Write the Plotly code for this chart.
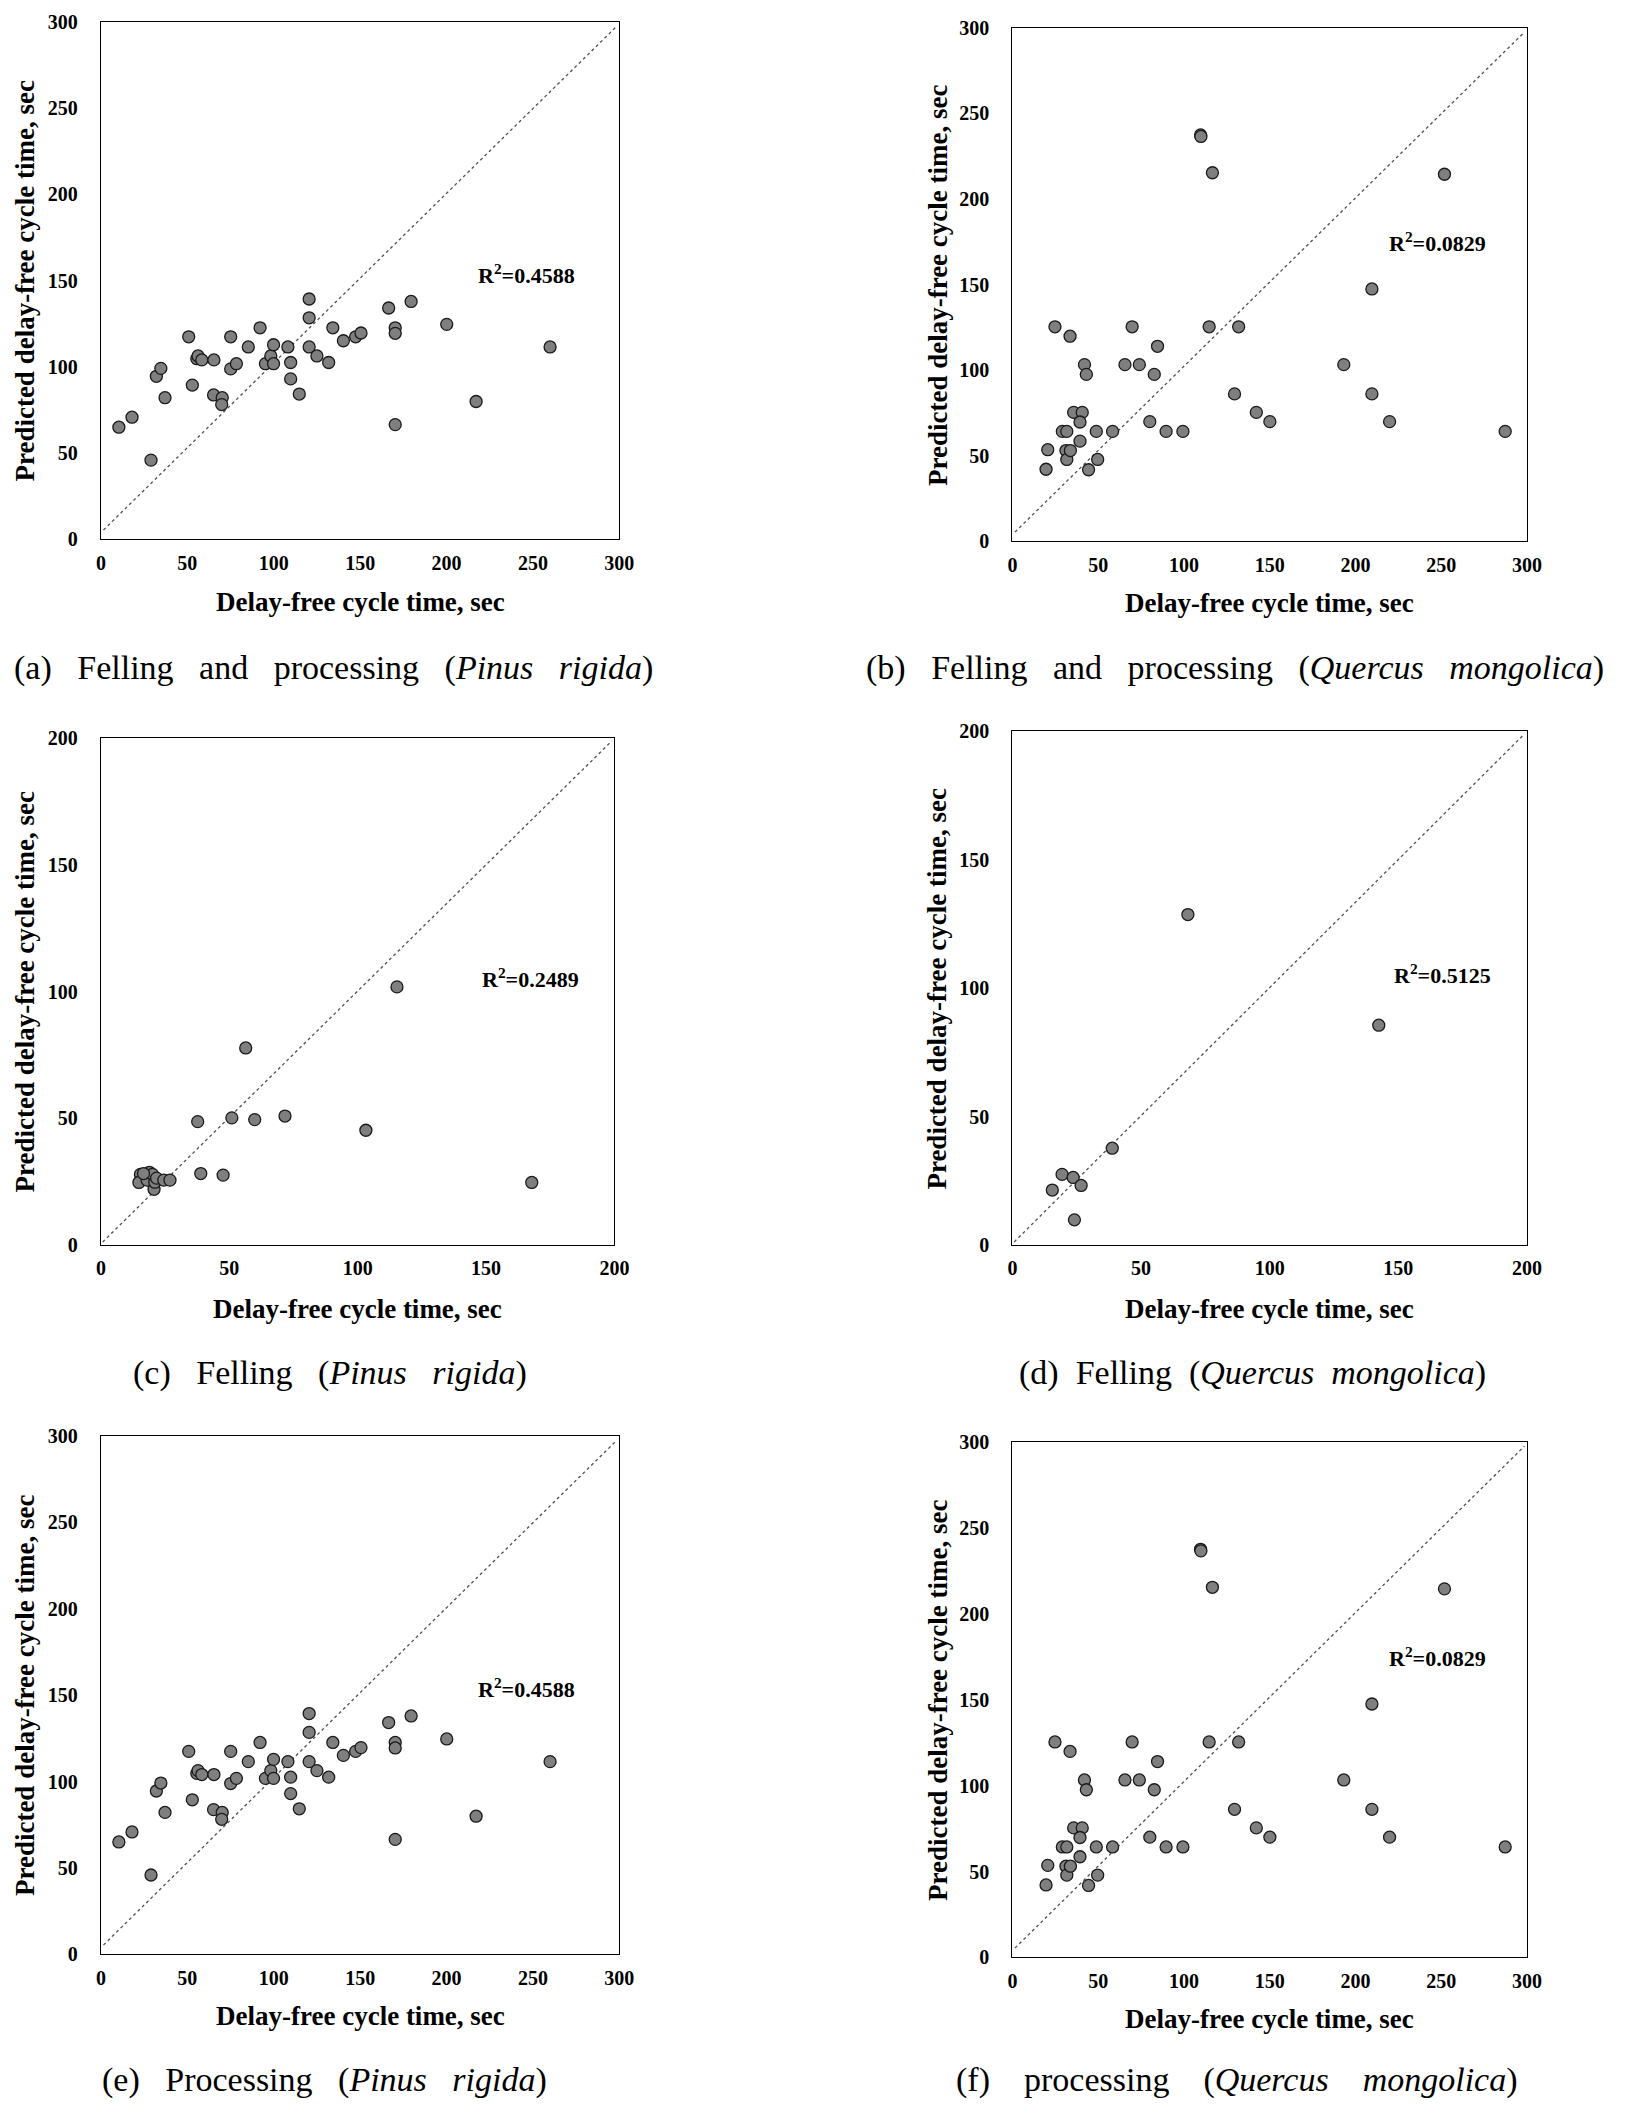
import plotly.graph_objects as go

# ---------------- data ----------------
# (a)/(e) Pinus rigida – felling and processing / processing
pinus_fp_x = [10.4, 18, 29, 32.1, 34.7, 37.1, 50.8, 52.9, 55.5, 56.2, 58.4, 65.4, 65.2, 70.2, 69.9,
              75.1, 75.1, 78.4, 85.3, 92.1, 95.2, 98.3, 99.9, 99.9, 108.2, 109.8, 109.8, 114.8,
              120.5, 120.5, 120.5, 125, 131.8, 134.2, 140.3, 147.4, 150.5, 166.5, 170.3, 170.3,
              170.3, 179.5, 200.1, 217.1, 259.9]
pinus_fp_y = [65.1, 70.9, 46, 94.6, 99.2, 82.2, 117.5, 89.5, 104.8, 106.4, 104.1, 104.1, 83.8, 82.2, 78.2,
              117.5, 98.9, 101.9, 111.6, 122.7, 101.9, 106.4, 112.9, 101.9, 111.6, 102.6, 93.1, 84.3,
              139.4, 128.5, 111.6, 106.4, 102.6, 122.7, 115.2, 117.5, 119.7, 134.2, 122.7, 119.5,
              66.6, 138, 124.7, 80, 111.6]

# (b)/(f) Quercus mongolica – felling and processing / processing
quercus_fp_x = [19.6, 20.6, 24.8, 29.1, 31.7, 31.2, 31.7, 33.8, 33.6, 35.7, 40.7, 39.4, 39.4, 42, 43.1,
                44.4, 48.9, 49.7, 58.4, 65.6, 69.8, 74, 80.1, 82.7, 84.6, 89.6, 99.4, 109.7, 109.9,
                116.6, 114.7, 129.5, 131.9, 142.2, 150.1, 193.2, 209.6, 209.6, 219.9, 251.9, 287.3]
quercus_fp_y = [42.2, 53.6, 125.4, 64.3, 64.3, 53.1, 47.9, 53.1, 119.9, 75.4, 75.4, 69.8, 58.6, 103.3, 97.6,
                41.9, 64.3, 47.9, 64.3, 103.3, 125.4, 103.3, 70, 97.6, 114, 64.3, 64.3, 237.5, 236.6,
                215.4, 125.4, 86.2, 125.4, 75.4, 70, 103.3, 147.5, 86.2, 70, 214.5, 64.3]

# (c) Pinus rigida – felling
pinus_f_x = [115.3, 56.4, 37.7, 51, 59.9, 71.7, 103.2, 38.9, 47.6, 167.8,
             15.4, 14.8, 18, 18.9, 20.1, 20.7, 21, 21.7, 24.5, 26.9, 16.6]
pinus_f_y = [101.9, 77.8, 48.7, 50.2, 49.5, 50.9, 45.3, 28.2, 27.6, 24.7,
             27.9, 24.7, 25.6, 28.7, 27.9, 22, 24.8, 26.4, 25.6, 25.6, 28.2]

# (d) Quercus mongolica – felling
quercus_f_x = [68.2, 142.4, 38.8, 19.3, 23.6, 26.7, 15.5, 24.1]
quercus_f_y = [128.7, 85.6, 37.7, 27.5, 26.3, 23.2, 21.4, 9.8]

# 1:1 reference line end points
line300_x = [1.5, 298.5]
line300_y = [5.5, 297.5]
line200_x = [0.7, 199.0]
line200_y = [1.2, 199.0]

ticks300 = [0, 50, 100, 150, 200, 250, 300]
ticks200 = [0, 50, 100, 150, 200]

r2_labels = ["0.4588", "0.0829", "0.2489", "0.5125", "0.4588", "0.0829"]
r2_pos_x = [246, 248, 167.5, 167.3, 246, 248]
r2_pos_y = [154, 175, 105.4, 105.6, 154, 175]

captions = [
    ("(a) Felling and processing (", "Pinus rigida", ")"),
    ("(b) Felling and processing (", "Quercus mongolica", ")"),
    ("(c) Felling (", "Pinus rigida", ")"),
    ("(d) Felling (", "Quercus mongolica", ")"),
    ("(e) Processing (", "Pinus rigida", ")"),
    ("(f) processing (", "Quercus mongolica", ")"),
]

x_title = "Delay-free cycle time, sec"
y_title = "Predicted delay-free cycle time, sec"

# ---------------- layout (pixels, page coordinates) ----------------
PAGE_W, PAGE_H = 1626, 2114
PAD = 8                      # default body margin of the html page
W, H = PAGE_W - 2 * PAD, PAGE_H - 2 * PAD
FONT = "Liberation Serif"


def fx(px):
    return (px - PAD) / W


def fy(py):
    return 1 - (py - PAD) / H


# left, right, top, bottom of each plot area
boxes = [
    (97, 622, 11, 534),
    (1020, 1541, 17, 536),
    (97, 617, 735, 1247),
    (1020, 1541, 728, 1247),
    (97, 622, 1440, 1964),
    (1020, 1541, 1446, 1967),
]
xtitle_y = [597, 598, 1312, 1312, 2026, 2029]
ytitle_x = [20, 944, 20, 944, 20, 944]
cap_x = [333, 1245, 329, 1263, 323, 1247]
cap_y = [664, 664, 1376, 1376, 2091, 2091]
cap_gap = [3, 3, 3, 2, 3, 4]

panel_data = [
    (pinus_fp_x, pinus_fp_y, 300),
    (quercus_fp_x, quercus_fp_y, 300),
    (pinus_f_x, pinus_f_y, 200),
    (quercus_f_x, quercus_f_y, 200),
    (pinus_fp_x, pinus_fp_y, 300),
    (quercus_fp_x, quercus_fp_y, 300),
]

fig = go.Figure()
annotations = []
layout_axes = {}

for i, ((l, r, t, b), (xs, ys, rng)) in enumerate(zip(boxes, panel_data)):
    n = "" if i == 0 else str(i + 1)
    xa, ya = "x" + n, "y" + n
    lx = line300_x if rng == 300 else line200_x
    ly = line300_y if rng == 300 else line200_y
    tv = ticks300 if rng == 300 else ticks200

    fig.add_trace(go.Scatter(x=lx, y=ly, mode="lines", xaxis=xa, yaxis=ya,
                             line=dict(color="#505050", width=1.3, dash="3px,3px"),
                             hoverinfo="skip"))
    fig.add_trace(go.Scatter(x=xs, y=ys, mode="markers", xaxis=xa, yaxis=ya,
                             marker=dict(size=12, color="#7f7f7f",
                                         line=dict(color="#1a1a1a", width=1.3))))

    common = dict(showgrid=False, zeroline=False, showline=True, mirror=True,
                  linecolor="black", linewidth=1.2, ticks="outside",
                  tickcolor="rgba(0,0,0,0)", tickvals=tv,
                  tickfont=dict(family=FONT, size=20, color="black", weight="bold"),
                  fixedrange=True)
    layout_axes["xaxis" + n] = dict(common, domain=[fx(l), fx(r)], range=[0, rng],
                                    anchor=ya, ticklen=5)
    layout_axes["yaxis" + n] = dict(common, domain=[fy(b), fy(t)], range=[0, rng],
                                    anchor=xa, ticklen=18)

    # R² label
    annotations.append(dict(x=r2_pos_x[i], y=r2_pos_y[i], xref=xa, yref=ya,
                            text="<b>R<sup>2</sup>=" + r2_labels[i] + "</b>",
                            showarrow=False, xanchor="center", yanchor="middle",
                            font=dict(family=FONT, size=22, color="black")))
    # axis titles
    annotations.append(dict(x=fx((l + r) / 2), y=fy(xtitle_y[i]), xref="paper", yref="paper",
                            text="<b>" + x_title + "</b>", showarrow=False,
                            xanchor="center", yanchor="middle",
                            font=dict(family=FONT, size=27, color="black")))
    annotations.append(dict(x=fx(ytitle_x[i]), y=fy((t + b) / 2), xref="paper", yref="paper",
                            text="<b>" + y_title + "</b>", showarrow=False, textangle=-90,
                            xanchor="center", yanchor="middle",
                            font=dict(family=FONT, size=27, color="black")))
    # caption
    gap = "\u00a0" * cap_gap[i]
    pre, sp, post = captions[i]
    cap = pre.replace(" ", gap) + "<i>" + sp.replace(" ", gap) + "</i>" + post
    annotations.append(dict(x=fx(cap_x[i]), y=fy(cap_y[i]), xref="paper", yref="paper",
                            text=cap, showarrow=False, xanchor="center", yanchor="middle",
                            font=dict(family=FONT, size=34, color="black")))

fig.update_layout(width=W, height=H, margin=dict(l=0, r=0, t=0, b=0),
                  paper_bgcolor="white", plot_bgcolor="white", showlegend=False,
                  annotations=annotations, **layout_axes)

fig.write_html("out.html", config={"displayModeBar": False})
